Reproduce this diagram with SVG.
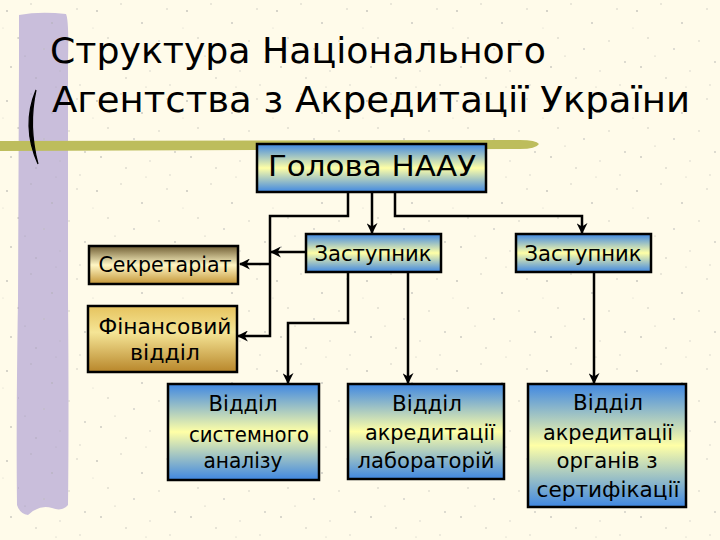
<svg xmlns="http://www.w3.org/2000/svg" width="720" height="540" viewBox="0 0 720 540">
<style>
.box{stroke:#000;stroke-width:2.5}
.t{font-family:"DejaVu Sans","Noto Sans",sans-serif;fill:#000;text-anchor:middle}
.bt{font-size:21px}
.ttl{font-family:"DejaVu Sans","Noto Sans",sans-serif;font-size:36px;fill:#000}
.c{fill:none;stroke:#000;stroke-width:2.5}
</style>
<defs>
<pattern id="speck" width="90" height="90" patternUnits="userSpaceOnUse">
<circle cx="7" cy="11" r="0.9" fill="#999" opacity="0.6"/>
<circle cx="31" cy="4" r="0.7" fill="#888" opacity="0.5"/>
<circle cx="52" cy="23" r="1" fill="#aaa" opacity="0.6"/>
<circle cx="77" cy="9" r="0.8" fill="#999" opacity="0.5"/>
<circle cx="18" cy="38" r="0.7" fill="#777" opacity="0.5"/>
<circle cx="44" cy="49" r="1.1" fill="#bbb" opacity="0.6"/>
<circle cx="69" cy="41" r="0.7" fill="#888" opacity="0.5"/>
<circle cx="85" cy="62" r="0.9" fill="#aaa" opacity="0.6"/>
<circle cx="11" cy="67" r="1" fill="#999" opacity="0.5"/>
<circle cx="36" cy="78" r="0.7" fill="#888" opacity="0.6"/>
<circle cx="60" cy="71" r="0.8" fill="#aaa" opacity="0.5"/>
<circle cx="25" cy="56" r="0.6" fill="#777" opacity="0.5"/>
<circle cx="80" cy="85" r="0.7" fill="#999" opacity="0.5"/>
<circle cx="56" cy="87" r="0.6" fill="#888" opacity="0.5"/>
<circle cx="3" cy="28" r="0.6" fill="#aaa" opacity="0.5"/>
</pattern>
<linearGradient id="gBlue" x1="0" y1="0" x2="0" y2="1">
<stop offset="0" stop-color="#3f87e2"/>
<stop offset="0.5" stop-color="#ffffa6"/>
<stop offset="1" stop-color="#3f87e2"/>
</linearGradient>
<linearGradient id="gSec" x1="0" y1="0" x2="0" y2="1">
<stop offset="0" stop-color="#6f5d33"/>
<stop offset="0.5" stop-color="#fff6c4"/>
<stop offset="1" stop-color="#c49636"/>
</linearGradient>
<linearGradient id="gFin" x1="0" y1="0" x2="0" y2="1">
<stop offset="0" stop-color="#e6c35e"/>
<stop offset="0.4" stop-color="#f5e596"/>
<stop offset="1" stop-color="#b8862a"/>
</linearGradient>
<marker id="arr" viewBox="0 0 10 10" refX="9" refY="5" markerWidth="4.4" markerHeight="4.4" orient="auto" markerUnits="strokeWidth">
<path d="M0,0 L10,5 L0,10 L3,5 Z" fill="#000"/>
</marker>
</defs>
<rect width="720" height="540" fill="#fffbea"/>
<rect width="720" height="540" fill="url(#speck)"/>
<g id="decor">
<path d="M19,15 Q40,11 66,14 Q69,20 68,60 L68,300 Q69,420 68,505 Q62,512 52,508 Q40,504 28,515 Q20,514 17,505 Q16,420 18,300 L19,60 Z" fill="#c9bedb"/>
<rect x="18" y="15" width="50" height="495" fill="url(#speck)" opacity="0.8"/>
<path d="M0,141 L520,140 Q536,140 539,144 Q536,149 520,149 L0,151 Z" fill="#bdbd5c"/>
<path d="M36,90 Q21,126 38,164 Q28,126 36,90 Z" fill="#000" stroke="#000" stroke-width="1.2"/>
</g>
<g id="title">
<text class="ttl" x="50" y="63" textLength="496" lengthAdjust="spacingAndGlyphs">Структура Національного</text>
<text class="ttl" x="52" y="112" textLength="638" lengthAdjust="spacingAndGlyphs">Агентства з Акредитації України</text>
</g>
<g id="connectors">
<path class="c" d="M372,192 L372,233" marker-end="url(#arr)"/>
<path class="c" d="M395,192 L395,216 L582,216 L582,233" marker-end="url(#arr)"/>
<path class="c" d="M348,192 L348,216 L270,216 L270,336 L238,336" marker-end="url(#arr)"/>
<path class="c" d="M270,264 L240,264" marker-end="url(#arr)"/>
<path class="c" d="M306,252 L271,252" marker-end="url(#arr)"/>
<path class="c" d="M348,272 L348,323 L288,323 L288,383" marker-end="url(#arr)"/>
<path class="c" d="M408,272 L408,383" marker-end="url(#arr)"/>
<path class="c" d="M594,272 L594,383" marker-end="url(#arr)"/>
</g>
<g id="head">
<rect class="box" x="257" y="144" width="229" height="48" fill="url(#gBlue)"/>
<text class="t" x="372" y="176" font-size="28" textLength="208" lengthAdjust="spacingAndGlyphs">Голова НААУ</text>
</g>
<g id="deputy1">
<rect class="box" x="306" y="234" width="135" height="38" fill="url(#gBlue)"/>
<text class="t bt" x="373" y="261" textLength="117" lengthAdjust="spacingAndGlyphs">Заступник</text>
</g>
<g id="deputy2">
<rect class="box" x="516" y="234" width="135" height="38" fill="url(#gBlue)"/>
<text class="t bt" x="583" y="261" textLength="117" lengthAdjust="spacingAndGlyphs">Заступник</text>
</g>
<g id="secretariat">
<rect class="box" x="89" y="246" width="149" height="38" fill="url(#gSec)"/>
<text class="t bt" x="165" y="272" textLength="133" lengthAdjust="spacingAndGlyphs">Секретаріат</text>
</g>
<g id="finance">
<rect class="box" x="88" y="306" width="149" height="66" fill="url(#gFin)"/>
<text class="t bt" x="165" y="334" textLength="133" lengthAdjust="spacingAndGlyphs">Фінансовий</text>
<text class="t bt" x="165" y="360" textLength="70" lengthAdjust="spacingAndGlyphs">відділ</text>
</g>
<g id="sysanalysis">
<rect class="box" x="168" y="384" width="151" height="96" fill="url(#gBlue)"/>
<text class="t bt" x="243" y="411" textLength="69" lengthAdjust="spacingAndGlyphs">Відділ</text>
<text class="t bt" x="249" y="442" textLength="120" lengthAdjust="spacingAndGlyphs">системного</text>
<text class="t bt" x="243" y="468" textLength="79" lengthAdjust="spacingAndGlyphs">аналізу</text>
</g>
<g id="labaccr">
<rect class="box" x="348" y="384" width="156" height="95" fill="url(#gBlue)"/>
<text class="t bt" x="427" y="411" textLength="70" lengthAdjust="spacingAndGlyphs">Відділ</text>
<text class="t bt" x="430" y="440" textLength="130" lengthAdjust="spacingAndGlyphs">акредитації</text>
<text class="t bt" x="426" y="468" textLength="137" lengthAdjust="spacingAndGlyphs">лабораторій</text>
</g>
<g id="certaccr">
<rect class="box" x="528" y="384" width="158" height="123" fill="url(#gBlue)"/>
<text class="t bt" x="608" y="410" textLength="70" lengthAdjust="spacingAndGlyphs">Відділ</text>
<text class="t bt" x="608" y="440" textLength="130" lengthAdjust="spacingAndGlyphs">акредитації</text>
<text class="t bt" x="607" y="468" textLength="101" lengthAdjust="spacingAndGlyphs">органів з</text>
<text class="t bt" x="608" y="497" textLength="143" lengthAdjust="spacingAndGlyphs">сертифікації</text>
</g>
</svg>
